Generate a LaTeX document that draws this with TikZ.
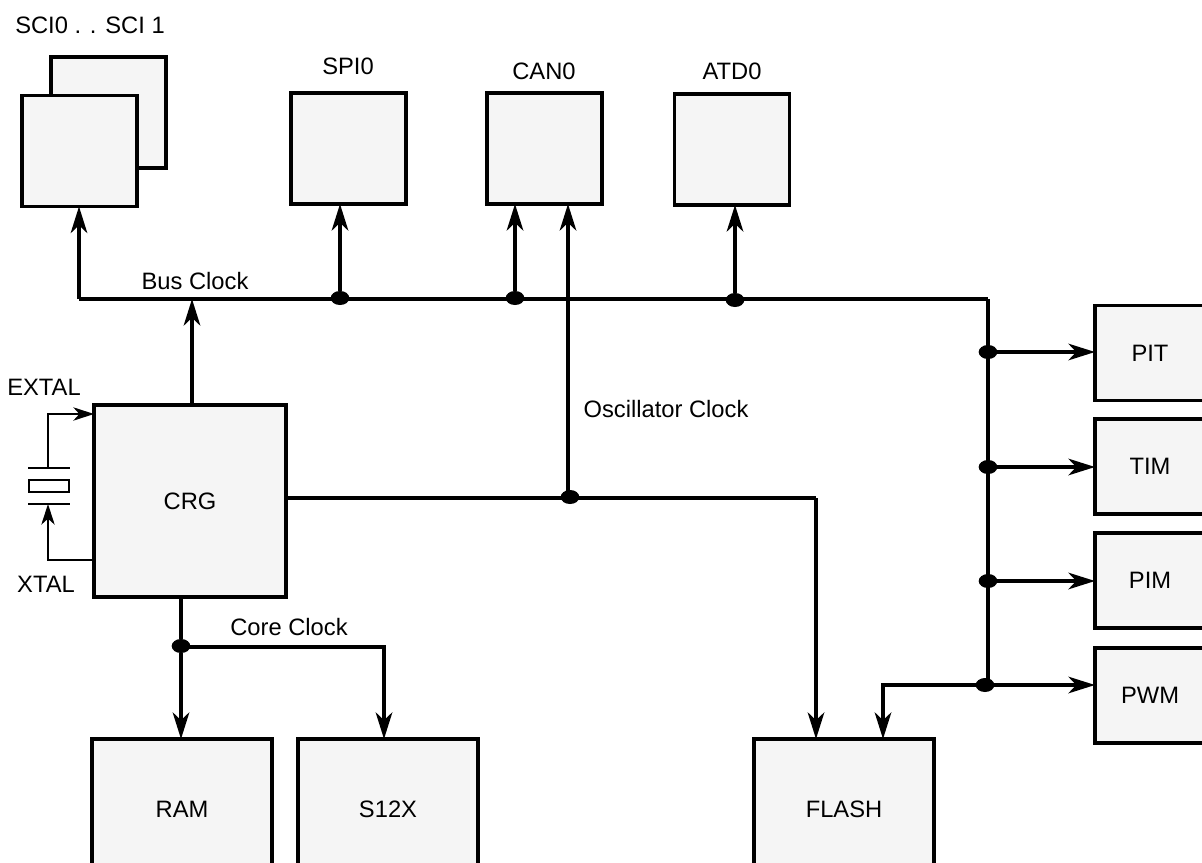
\documentclass[tikz,border=0pt]{standalone}
\usepackage{fontspec}
\setmainfont{Liberation Sans}
\usetikzlibrary{arrows.meta,shapes.geometric}
\tikzset{
  every node/.style={font=\fontsize{17.8}{21}\selectfont, inner sep=0pt, outer sep=0pt},
  block/.style={rectangle, draw=black, fill=black!4, line width=2.28pt},
  smallblock/.style={block, minimum width=86.25pt, minimum height=83.25pt},
  sideblock/.style={block, minimum width=82.5pt, minimum height=71.25pt},
  bigblock/.style={block, minimum width=135pt, minimum height=105pt},
  junct/.style={ellipse, fill=black, minimum width=14pt, minimum height=10.5pt},
  wire/.style={line width=2.4pt},
  flow/.style={wire, -{Stealth[length=20pt, width=12.5pt, inset=6pt]}},
  thinwire/.style={line width=1.3pt},
  thinflow/.style={thinwire, -{Stealth[length=15.5pt, width=10pt, inset=4.5pt]}},
}
\begin{document}
\begin{tikzpicture}[x=0.75pt, y=-0.75pt]
\useasboundingbox (0,0) rectangle (1202,863);
% peripheral blocks along the top
\node[smallblock] (sci1) at (108.5,112.5){};
\node[smallblock] (sci0) at (79.5,151){};
\node[smallblock] (spi0) at (348.5,148.5){};
\node[smallblock] (can0) at (544.5,148.5){};
\node[smallblock] (atd0) at (732,149.5){};
\node (scilabel) at (90,25){SCI0 . . SCI 1};
\node (spilabel) at (348,66){SPI0};
\node (canlabel) at (544,71){CAN0};
\node (atdlabel) at (732,71){ATD0};
% blocks on the right
\node[sideblock] (pit) at (1150,353){PIT};
\node[sideblock] (tim) at (1150,466.5){TIM};
\node[sideblock] (pim) at (1150,580.5){PIM};
\node[sideblock] (pwm) at (1150,695.5){PWM};
% clock generator and memories
\node[block, minimum width=144pt, minimum height=144pt] (crg) at (190,501){CRG};
\node[bigblock] (ram) at (182,809){RAM};
\node[bigblock] (s12x) at (388,809){S12X};
\node[bigblock] (flash) at (844,809){FLASH};
% junctions
\node[junct] (jspi) at (340,298){};
\node[junct] (jcan) at (515,298){};
\node[junct] (jatd) at (735,300){};
\node[junct] (josc) at (570,497){};
\node[junct] (jpit) at (988,352){};
\node[junct] (jtim) at (988,467){};
\node[junct] (jpim) at (988,581){};
\node[junct] (jpwm) at (985,685){};
\node[junct] (jcore) at (181,646){};
\coordinate (busleft) at (79,299);
\coordinate (busright) at (988,299);
\coordinate (busin) at (192,299);
\coordinate (osctop) at (568,204);
\coordinate (flashcorner) at (816,498);
\coordinate (corecorner) at (384,647);
\coordinate (pwmcorner) at (883,685);
% bus clock
\draw[wire] (busleft) -- (busright);
\draw[wire] (busright) -- (busright |- jpwm);
\draw[flow] (busleft) -- (busleft |- sci0.south);
\draw[flow] (busin |- crg.north) -- (busin);
\draw[flow] (jspi) -- (jspi |- spi0.south);
\draw[flow] (jcan) -- (jcan |- can0.south);
\draw[flow] (jatd) -- (jatd |- atd0.south);
\draw[flow] (jpit) -- (pit.west |- jpit);
\draw[flow] (jtim) -- (tim.west |- jtim);
\draw[flow] (jpim) -- (pim.west |- jpim);
\draw[flow] (jpwm) -- (pwm.west |- jpwm);
\draw[flow] (jpwm) -- (pwmcorner) -- (pwmcorner |- flash.north);
% oscillator clock
\draw[wire] (crg.east |- flashcorner) -- (flashcorner);
\draw[flow] (flashcorner) -- (flashcorner |- flash.north);
\draw[flow] (osctop |- josc) -- (osctop);
% core clock
\draw[wire] (jcore |- crg.south) -- (jcore);
\draw[flow] (jcore) -- (jcore |- ram.north);
\draw[flow] (jcore |- corecorner) -- (corecorner) -- (corecorner |- s12x.north);
% crystal
\node[rectangle, draw=black, thinwire, minimum width=30pt, minimum height=9pt] (xtalbody) at (49,486){};
\coordinate (platetop) at (48,468);
\coordinate (platebot) at (48,504);
\coordinate (extalin) at (48,414);
\coordinate (xtalout) at (48,560);
\draw[thinwire] ([xshift=-15pt]platetop) -- ([xshift=16.5pt]platetop);
\draw[thinwire] ([xshift=-15pt]platebot) -- ([xshift=16.5pt]platebot);
\draw[thinflow] (platetop) -- (extalin) -- (crg.west |- extalin);
\draw[thinflow] (crg.west |- xtalout) -- (xtalout) -- (platebot);
% labels
\node (buslabel) at (195,281){Bus Clock};
\node (osclabel) at (666,409){Oscillator Clock};
\node (corelabel) at (289,627){Core Clock};
\node (extallabel) at (44,387){EXTAL};
\node (xtallabel) at (46,584){XTAL};
\end{tikzpicture}
\end{document}
